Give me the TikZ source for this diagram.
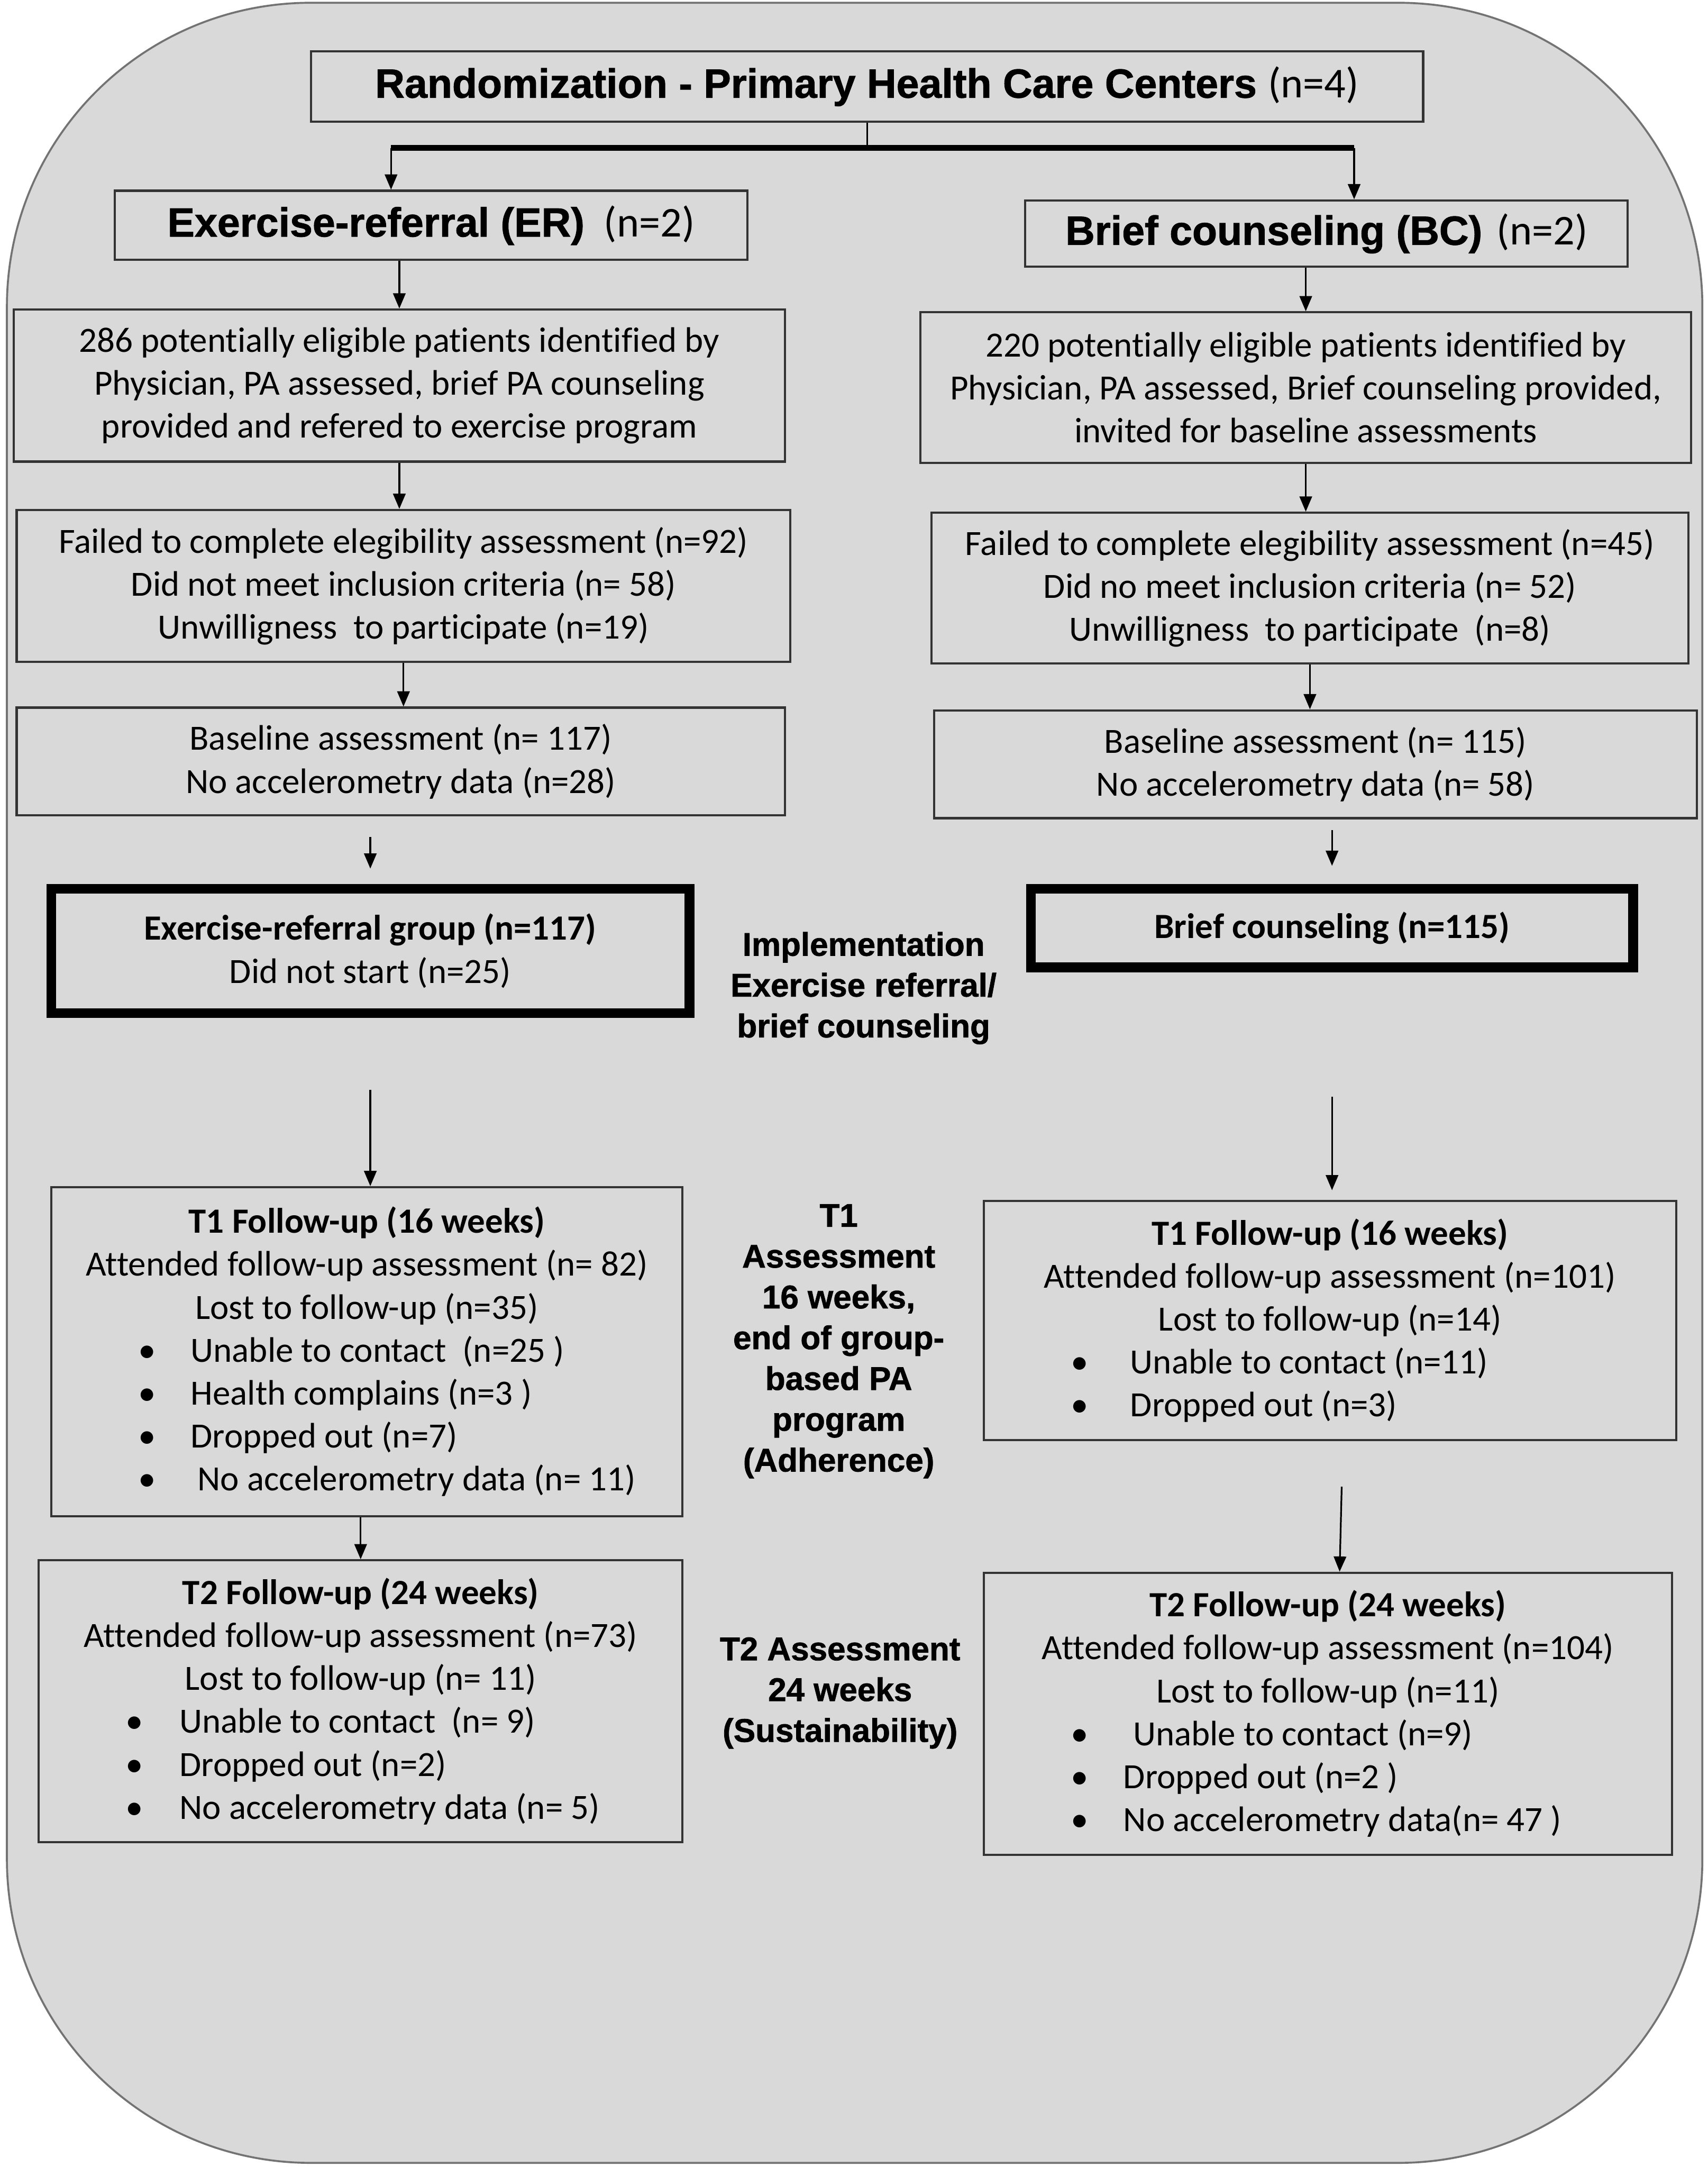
\documentclass[tikz,border=0pt]{standalone}
\usepackage{fontspec}
\setmainfont{Carlito}[Ligatures=NoCommon]
\newfontfamily\headsans{Liberation Sans}[BoldFeatures={FakeBold=1.2}]
\usetikzlibrary{arrows.meta,positioning}
\definecolor{panel}{RGB}{217,217,217}
\newcommand{\bitem}[3]{\makebox[#1][l]{\makebox[#2][l]{\textbullet}#3}}
\tikzset{
  box/.style={draw=black!80, line width=0.9pt, align=center, inner sep=2pt, font=\fontsize{14.6pt}{17.7pt}\selectfont},
  groupbox/.style={box, draw=black, line width=4pt},
  headbox/.style={draw=black!80, line width=0.9pt, align=center, inner sep=2pt, font=\headsans\bfseries\fontsize{16.8pt}{20pt}\selectfont},
  side/.style={align=center, inner sep=0pt, font=\headsans\bfseries\fontsize{13.5pt}{16.8pt}\selectfont},
  flow/.style={-{Triangle[length=2.2mm,width=1.8mm]}, line width=0.7pt}
}
\newcommand{\nn}[1]{{\mdseries\normalfont\fontsize{17.5pt}{20pt}\selectfont #1}}
\begin{document}
\begin{tikzpicture}[x=0.02cm, y=-0.02cm]
  \useasboundingbox (0,0) rectangle (1236,1568);
  \filldraw[fill=panel, draw=black!55, line width=0.8pt, rounded corners=4.4cm] (5,2) rectangle (1232,1565);

  % top of the chart
  \node[headbox, minimum width=16.1cm, minimum height=1.02cm] (rand) at (627.5,62.5) {Randomization - Primary Health Care Centers \nn{(n=4)}};
  \node[headbox, minimum width=9.16cm, minimum height=1.0cm] (er) at (312,163) {Exercise-referral (ER)\hspace{8pt}\nn{(n=2)}};
  \node[headbox, minimum width=8.72cm, minimum height=0.96cm] (bc) at (960,169) {Brief counseling (BC)\hspace{6pt}\nn{(n=2)}};

  % exercise-referral arm
  \node[box, minimum width=11.16cm, minimum height=2.2cm] (erelig) at (289,279) {286 potentially eligible patients identified by\\Physician, PA assessed, brief PA counseling\\provided and refered to exercise program};
  \node[box, minimum width=11.2cm, minimum height=2.2cm] (erexcl) at (292,424) {Failed to complete elegibility assessment (n=92)\\Did not meet inclusion criteria (n= 58)\\Unwilligness\ \ to participate (n=19)};
  \node[box, minimum width=11.12cm, minimum height=1.56cm] (erbase) at (290,551) {Baseline assessment (n= 117)\\No accelerometry data (n=28)};
  \node[groupbox, minimum width=9.24cm, minimum height=1.8cm] (ergroup) at (268,688) {\textbf{Exercise-referral group (n=117)}\\Did not start (n=25)};
  \node[box, minimum width=9.14cm, minimum height=4.76cm] (ert1) at (265.5,978) {\textbf{T1 Follow-up (16 weeks)}\\Attended follow-up assessment (n= 82)\\Lost to follow-up (n=35)\\
    \bitem{6.62cm}{0.76cm}{Unable to contact\ \ (n=25 )}\\
    \bitem{6.62cm}{0.76cm}{Health complains (n=3 )}\\
    \bitem{6.62cm}{0.76cm}{Dropped out (n=7)}\\
    \bitem{6.62cm}{0.86cm}{No accelerometry data (n= 11)}};
  \node[box, minimum width=9.32cm, minimum height=4.08cm] (ert2) at (261,1231) {\textbf{T2 Follow-up (24 weeks)}\\Attended follow-up assessment (n=73)\\Lost to follow-up (n= 11)\\
    \bitem{6.8cm}{0.78cm}{Unable to contact\ \ (n= 9)}\\
    \bitem{6.8cm}{0.78cm}{Dropped out (n=2)}\\
    \bitem{6.8cm}{0.78cm}{No accelerometry data (n= 5)}};

  % brief counseling arm
  \node[box, minimum width=11.16cm, minimum height=2.18cm] (bcelig) at (945,280.5) {220 potentially eligible patients identified by\\Physician, PA assessed, Brief counseling provided,\\invited for baseline assessments};
  \node[box, minimum width=10.96cm, minimum height=2.18cm] (bcexcl) at (948,425.5) {Failed to complete elegibility assessment (n=45)\\Did no meet inclusion criteria (n= 52)\\Unwilligness\ \ to participate\ \ (n=8)};
  \node[box, minimum width=11.04cm, minimum height=1.56cm] (bcbase) at (952,553) {Baseline assessment (n= 115)\\No accelerometry data (n= 58)};
  \node[groupbox, minimum width=8.72cm, minimum height=1.14cm] (bcgroup) at (964,671.5) {\textbf{Brief counseling (n=115)}};
  \node[box, minimum width=10.02cm, minimum height=3.46cm] (bct1) at (962.5,955.5) {\textbf{T1 Follow-up (16 weeks)}\\Attended follow-up assessment (n=101)\\Lost to follow-up (n=14)\\
    \bitem{7.5cm}{0.86cm}{Unable to contact (n=11)}\\
    \bitem{7.5cm}{0.86cm}{Dropped out (n=3)}};
  \node[box, minimum width=9.96cm, minimum height=4.08cm] (bct2) at (961,1240) {\textbf{T2 Follow-up (24 weeks)}\\Attended follow-up assessment (n=104)\\Lost to follow-up (n=11)\\
    \bitem{7.44cm}{0.9cm}{Unable to contact (n=9)}\\
    \bitem{7.44cm}{0.76cm}{Dropped out (n=2 )}\\
    \bitem{7.44cm}{0.76cm}{No accelerometry data(n= 47 )}};

  % phase labels in the middle
  \node[side] (impl) at (625,715) {Implementation\\Exercise referral/\\brief counseling};
  \node[side] (lbtone) at (607,970.5) {T1\\Assessment\\16 weeks,\\end of group-\\based PA\\program\\(Adherence)};
  \node[side] (lbttwo) at (608,1225) {T2 Assessment\\24 weeks\\(Sustainability)};

  % connectors
  \coordinate (erfork) at (283,107);
  \coordinate (bcfork) at (980,107);
  \draw[line width=0.7pt] (rand.south) -- (rand.south |- erfork);
  \draw[line width=2.6pt] (erfork) -- (bcfork);
  \draw[flow] (erfork) -- (erfork |- er.north);
  \draw[flow] (bcfork) -- (bcfork |- bc.north);

  \draw[flow] (er.south -| erelig.north) -- (erelig.north);
  \draw[flow] (erelig.south) -- (erelig.south |- erexcl.north);
  \draw[flow] (erexcl.south) -- (erexcl.south |- erbase.north);
  \draw[flow] ([yshift=-0.3cm]erbase.south -| ergroup.north) -- ([yshift=0.22cm]ergroup.north);
  \draw[flow] ([yshift=-1.04cm]ergroup.south) -- (ergroup.south |- ert1.north);
  \draw[flow] (ert1.south -| ert2.north) -- (ert2.north);

  \draw[flow] (bc.south -| bcelig.north) -- (bcelig.north);
  \draw[flow] (bcelig.south) -- (bcelig.south |- bcexcl.north);
  \draw[flow] (bcexcl.south) -- (bcexcl.south |- bcbase.north);
  \draw[flow] ([yshift=-0.16cm]bcbase.south -| bcgroup.north) -- ([yshift=0.26cm]bcgroup.north);
  \draw[flow] ([yshift=-1.8cm]bcgroup.south) -- ([yshift=0.14cm]bcgroup.south |- bct1.north);
  \draw[flow] ([shift={(0.17cm,-0.66cm)}]bct1.south) -- ([xshift=0.17cm]bct2.north);
\end{tikzpicture}
\end{document}
